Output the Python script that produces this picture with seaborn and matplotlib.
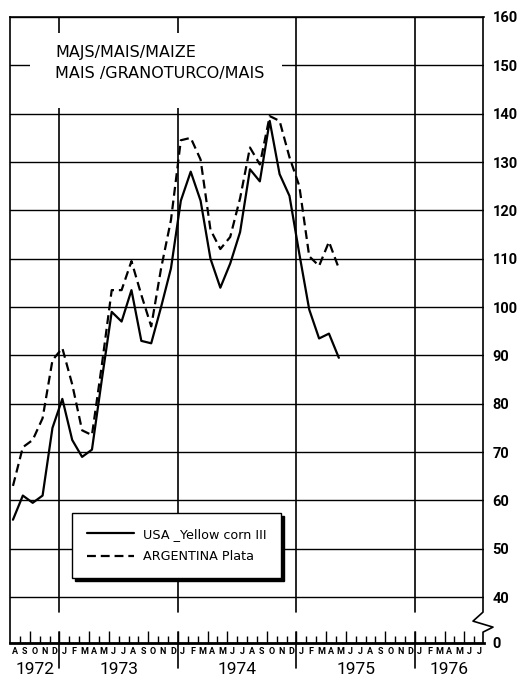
import numpy as np
import pandas as pd
import matplotlib.pyplot as plt
import matplotlib.transforms as mtrans
from matplotlib.patches import Rectangle
import seaborn as sns

# month index 0 = Aug 1972, axis runs to end of Jul 1976
month_letters = list('ASOND') + list('JFMAMJJASOND') * 3 + list('JFMAMJJ')
years = ['1972', '1973', '1974', '1975', '1976']
year_starts = [0, 5, 17, 29, 41]

# Aug 1972 .. May 1975
usa = [56, 61, 59.5, 61, 75, 81, 72.5, 69, 70.5, 85, 99, 97, 103.5, 93, 92.5, 100, 108,
       122, 128, 122, 110, 104, 109, 115.5, 128.5, 126, 138.5, 127.5, 123,
       111, 99.5, 93.5, 94.5, 89.5]
argentina = [63, 71, 72.5, 77, 89, 91.5, 84, 74.5, 73.5, 88, 103.5, 103.5, 109.5, 102.5, 96, 108, 118,
             134.5, 135, 130.5, 116, 112, 114.5, 122.5, 133, 129.5, 139.5, 138.5, 131,
             125, 110.5, 108.5, 113.5, 108]
series_names = ['USA _Yellow corn III', 'ARGENTINA Plata']

yticks = [40, 50, 60, 70, 80, 90, 100, 110, 120, 130, 140, 150, 160]
BASE = 30.5  # where the broken axis puts "0"

df = pd.DataFrame({'pos': np.arange(len(usa)) + 0.3,
                   series_names[0]: usa, series_names[1]: argentina})
long = df.melt(id_vars='pos', var_name='series', value_name='value')

sns.set_theme(style='white')
plt.rcParams['font.family'] = ['Roboto', 'DejaVu Sans']
plt.rcParams['text.color'] = 'black'

fig = plt.figure(figsize=(5.17, 6.83), dpi=100)
ax = fig.add_axes([10 / 517, 1 - 643 / 683, 474 / 517, 626 / 683])

px_x = 1 / 9.875   # months per pixel
px_y = 1 / 4.833   # units per pixel

sns.lineplot(data=long, x='pos', y='value', style='series', style_order=series_names,
             dashes={series_names[0]: '', series_names[1]: (4, 2.2)},
             color='black', linewidth=1.6, ax=ax, zorder=5)

ax.set_xlim(0, 48)
ax.set_ylim(BASE, 160)
ax.set_xlabel('')
ax.set_ylabel('')

# y axis on the right with horizontal grid
ax.yaxis.tick_right()
ax.set_yticks([BASE] + yticks, ['0'] + [str(v) for v in yticks])
ax.tick_params(axis='y', length=0, pad=6, labelsize=10.5, labelcolor='black')
for lab in ax.get_yticklabels():
    lab.set_fontweight('bold')
ax.grid(axis='y', color='black', linewidth=1)
ax.grid(axis='x', visible=False)

# month ticks: quarters longer
quarters = [i for i, m in enumerate(month_letters) if i > 0 and month_letters[i] in 'JAO'
            and (month_letters[i - 1] in 'DMS')]
ax.set_xticks(quarters)
ax.set_xticks(range(1, 48), minor=True)
ax.tick_params(axis='x', which='major', direction='in', length=9, width=1, color='black',
               bottom=True, labelbottom=False)
ax.tick_params(axis='x', which='minor', direction='in', length=5, width=1, color='black',
               bottom=True)

for side in ['left', 'top', 'bottom']:
    ax.spines[side].set_color('black')
    ax.spines[side].set_linewidth(1.2)
ax.spines['bottom'].set_linewidth(2)
ax.spines['right'].set_visible(False)

# right edge with the axis break
zx = [483, 483, 473, 493, 483, 483]
zy = [17, 612, 621, 627, 632, 643]
ax.plot([(x - 10) * px_x for x in zx], [160 - (y - 17) * px_y for y in zy],
        color='black', lw=1.2, clip_on=False, zorder=6)

# year dividers
gap_top = 160 - (612 - 17) * px_y
gap_bot = BASE + 11 * px_y
below = BASE - 25 * px_y
for s in year_starts[1:]:
    ax.plot([s, s], [160, gap_top], color='black', lw=1.2, zorder=1)
    ax.plot([s, s], [gap_bot, below], color='black', lw=1.2, clip_on=False, zorder=1)

trans = mtrans.blended_transform_factory(ax.transData, ax.transAxes)
for i, m in enumerate(month_letters):
    ax.text(i + 0.5, -9 / 626, m, transform=trans, ha='center', va='center',
            fontsize=6.5, fontweight='bold', color='black')
ends = year_starts[1:] + [48]
for y, s, e in zip(years, year_starts, ends):
    ax.text((s + e) / 2, -26 / 626, y, transform=trans, ha='center', va='center',
            fontsize=12.5, color='black')

# title on a white patch
ax.add_patch(Rectangle((20 / 474, 1 - 91 / 626), 252 / 474, 75 / 626, transform=ax.transAxes,
                       facecolor='white', edgecolor='none', zorder=3))
ax.text(45 / 474, 1 - 46 / 626, 'MAJS/MAIS/MAIZE\nMAIS /GRANOTURCO/MAIS', transform=ax.transAxes,
        ha='left', va='center', fontsize=11.5, linespacing=1.45, zorder=4,
        family='DejaVu Sans', color='black')

handles, labels = ax.get_legend_handles_labels()
leg = ax.legend(handles, labels, loc='upper left', bbox_to_anchor=(62 / 474, 1 - 496 / 626),
                borderaxespad=0, prop={'family': 'DejaVu Sans', 'size': 9.2},
                handlelength=3.7, handletextpad=0.7, labelcolor='black',
                frameon=True, fancybox=False, edgecolor='black', framealpha=1,
                shadow={'color': 'black', 'alpha': 1}, borderpad=1.15, labelspacing=0.75)
leg.get_frame().set_linewidth(1)
leg.set_zorder(7)

fig.savefig('out.png', dpi=100)
